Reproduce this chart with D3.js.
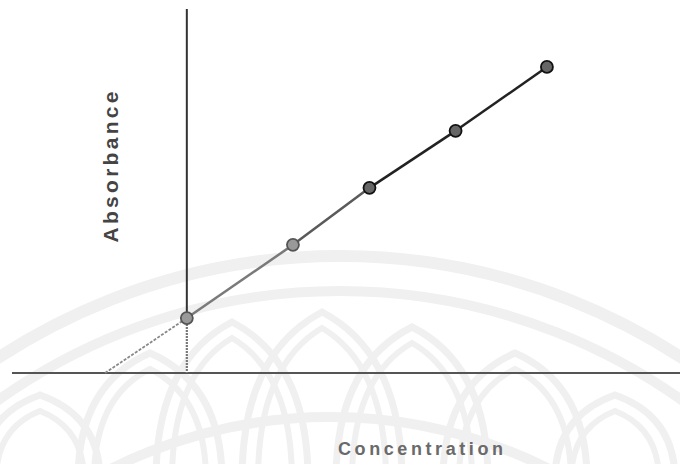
<!DOCTYPE html>
<html>
<head>
<meta charset="utf-8">
<script src="https://cdn.jsdelivr.net/npm/d3@7"></script>
<style>
  body { margin: 0; background: #fff; }
  svg { display: block; }
</style>
</head>
<body>
<div id="chart"></div>
<script>
// standard additions: added concentration vs absorbance
const concentration = [0, 1.22, 2.10, 3.09, 4.14];
const absorbance = [0.183, 0.427, 0.617, 0.807, 1.02];
const xIntercept = -0.94; // extrapolated point on the concentration axis
const xLabel = "Concentration";
const yLabel = "Absorbance";

const width = 680;
const height = 464;

const svg = d3.select("#chart")
    .append("svg")
    .attr("width", width)
    .attr("height", height);

// scales (y axis sits at concentration 0, x axis at absorbance 0)
const x = d3.scaleLinear().domain([-2.01, 5.67]).range([12, 680]);
const y = d3.scaleLinear().domain([0, 1.213]).range([373, 9]);

// faint lotus watermark in the background
const wm = svg.append("g")
    .attr("fill", "none")
    .attr("stroke", "#f0f0f0");

[[630, 12], [594, 10]].forEach(([r, w]) => {
    wm.append("circle")
        .attr("cx", 340).attr("cy", 880).attr("r", r - w / 2)
        .attr("stroke-width", w);
});
wm.append("circle")
    .attr("cx", 330).attr("cy", 905).attr("r", 488)
    .attr("stroke-width", 10);

const petals = [[150, 353, 72], [232, 322, 76], [322, 312, 80], [412, 327, 76], [515, 353, 72], [40, 395, 60], [615, 395, 60]];
function arch(px, py, w, base) {
    const ctrl = py + (base - py) * 0.25;
    return `M${px - w},${base} Q${px - w},${ctrl} ${px},${py} Q${px + w},${ctrl} ${px + w},${base}`;
}
petals.forEach(([px, py, w]) => {
    wm.append("path").attr("d", arch(px, py, w, 480)).attr("stroke-width", 7);
    wm.append("path").attr("d", arch(px, py + 16, w - 16, 480)).attr("stroke-width", 6);
});

// x axis
svg.append("line")
    .attr("x1", x.range()[0]).attr("x2", x.range()[1])
    .attr("y1", y(0)).attr("y2", y(0))
    .attr("stroke", "#555")
    .attr("stroke-width", 2);

// y axis: dark above the first point, lighter below it
svg.append("line")
    .attr("x1", x(0)).attr("x2", x(0))
    .attr("y1", y.range()[1]).attr("y2", y(absorbance[0]))
    .attr("stroke", "#333")
    .attr("stroke-width", 2);
svg.append("line")
    .attr("x1", x(0)).attr("x2", x(0))
    .attr("y1", y(absorbance[0])).attr("y2", y(0))
    .attr("stroke", "#777")
    .attr("stroke-width", 2.2)
    .attr("stroke-dasharray", "2,1");

// extrapolation back to the concentration axis
svg.append("line")
    .attr("x1", x(xIntercept)).attr("y1", y(0))
    .attr("x2", x(concentration[0])).attr("y2", y(absorbance[0]))
    .attr("stroke", "#888")
    .attr("stroke-width", 1.8)
    .attr("stroke-dasharray", "3,1.5");

// fitted line through the points
const pts = concentration.map((c, i) => ({ c: c, a: absorbance[i] }));
const segColors = ["#7a7a7a", "#5a5a5a", "#222", "#222"];
d3.pairs(pts).forEach(([p, q], i) => {
    svg.append("line")
        .attr("x1", x(p.c)).attr("y1", y(p.a))
        .attr("x2", x(q.c)).attr("y2", y(q.a))
        .attr("stroke", segColors[i])
        .attr("stroke-width", 2.5);
});

// markers
svg.selectAll("circle.pt")
    .data(pts)
    .enter()
    .append("circle")
    .attr("class", "pt")
    .attr("cx", d => x(d.c))
    .attr("cy", d => y(d.a))
    .attr("r", 6)
    .attr("fill", (d, i) => i < 2 ? "#999" : "#666")
    .attr("stroke", (d, i) => i < 2 ? "#555" : "#111")
    .attr("stroke-width", 1.8);

// axis titles
svg.append("text")
    .attr("transform", "translate(118,167) rotate(-90)")
    .attr("text-anchor", "middle")
    .attr("textLength", 151)
    .attr("lengthAdjust", "spacing")
    .style("font-family", "'Liberation Sans', Arial, sans-serif")
    .style("font-weight", "bold")
    .style("font-size", "21px")
    .attr("fill", "#444")
    .text(yLabel);

svg.append("text")
    .attr("x", 338)
    .attr("y", 455)
    .attr("textLength", 165)
    .attr("lengthAdjust", "spacing")
    .style("font-family", "'Liberation Sans', Arial, sans-serif")
    .style("font-weight", "bold")
    .style("font-size", "18px")
    .attr("fill", "#6a6a6a")
    .text(xLabel);
</script>
</body>
</html>
